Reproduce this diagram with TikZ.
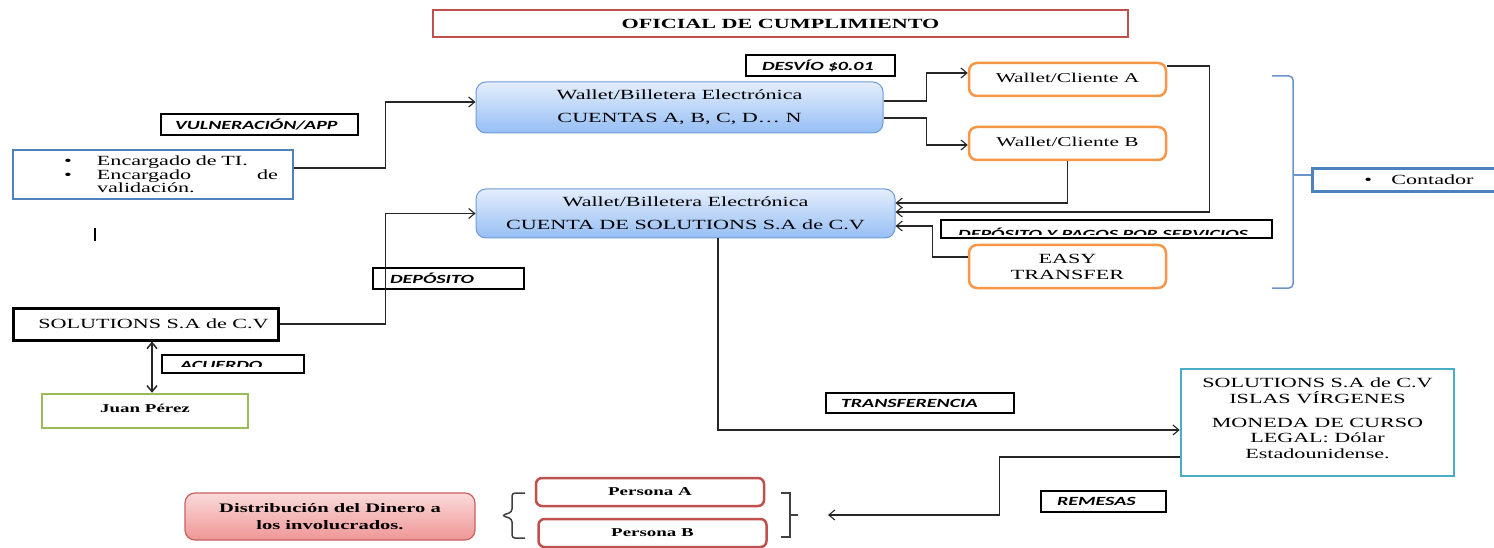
\documentclass[tikz,border=0pt]{standalone}
\usepackage{fontspec}
\setmainfont{Liberation Serif}[FakeStretch=1.58]
\newfontfamily\labfont{Carlito}[FakeStretch=1.6]
\usetikzlibrary{arrows.meta}
\definecolor{tred}{RGB}{192,80,77}
\definecolor{bblue}{RGB}{79,129,189}
\definecolor{wborder}{RGB}{110,155,215}
\definecolor{wtop}{RGB}{228,238,252}
\definecolor{wbot}{RGB}{150,190,245}
\definecolor{orng}{RGB}{247,150,70}
\definecolor{grn}{RGB}{155,187,89}
\definecolor{cyanb}{RGB}{75,172,198}
\definecolor{ptop}{RGB}{250,218,218}
\definecolor{pbot}{RGB}{240,150,150}
\definecolor{brk}{RGB}{64,64,64}
\begin{document}
\begin{tikzpicture}[x=1pt,y=-1pt,
  font=\fontsize{14}{15}\selectfont,
  box/.style={draw, inner sep=0pt, align=center},
  lab/.style={draw=black, line width=1.2pt, inner ysep=0pt, align=left,
    font=\labfont\bfseries\itshape\fontsize{12.5}{13}\selectfont},
  labtxt/.style={inner sep=0pt, anchor=base west,
    font=\labfont\bfseries\itshape\fontsize{12.5}{13}\selectfont},
  wallet/.style={box, draw=wborder, line width=1pt, rounded corners=10pt,
    top color=wtop, bottom color=wbot},
  orbox/.style={box, draw=orng, line width=2.5pt, rounded corners=8pt, minimum width=197pt},
  pbox/.style={box, draw=tred, line width=2.5pt, rounded corners=6pt,
    minimum width=228pt, minimum height=28pt, font=\bfseries\fontsize{12}{13}\selectfont},
  conn/.style={draw=black!85, line width=1.1pt, -{Straight Barb[length=6pt,width=10pt]}},
  dconn/.style={draw=black!85, line width=1.5pt,
    {Straight Barb[length=6pt,width=10pt]}-{Straight Barb[length=6pt,width=10pt]}},
  brack/.style={draw=brk, line width=1.5pt}
]
\useasboundingbox (0,0) rectangle (1494,548);

% title
\node[box, draw=tred, line width=2pt, minimum width=695pt, minimum height=27pt,
  font=\bfseries\fontsize{14}{15}\selectfont] (title) at (780.5,23.5) {OFICIAL DE CUMPLIMIENTO};

% wallets
\node[wallet, minimum width=407pt, minimum height=51pt] (w1) at (679.5,107.5)
  {Wallet/Billetera Electrónica\\[8pt]CUENTAS A, B, C, D… N};
\node[wallet, minimum width=419pt, minimum height=49pt] (w2) at (685.5,213.5)
  {Wallet/Billetera Electrónica\\[8pt]CUENTA DE SOLUTIONS S.A de C.V};

% left side
\node[box, draw=bblue, line width=2.5pt, minimum width=280pt, minimum height=49pt,
  text width=250pt, align=left, font=\fontsize{14}{13.5}\selectfont] (enc) at (153,174.5)
  {\hspace*{36pt}\makebox[33pt][l]{\textbullet}Encargado de TI.\\
   \hspace*{36pt}\makebox[33pt][l]{\textbullet}\makebox[181pt][s]{Encargado\hfill de}\\
   \hspace*{69pt}validación.};
\draw[line width=1.5pt] (95,228) -- (95,241);

\node[box, draw=black, line width=3pt, minimum width=265pt, minimum height=32pt] (sol) at (145.5,324)
  {\hspace*{16pt}SOLUTIONS S.A de C.V};
\node[box, draw=grn, line width=2.5pt, minimum width=206pt, minimum height=34pt,
  font=\bfseries\fontsize{12}{13}\selectfont] (juan) at (145,411) {Juan Pérez\rule[-6pt]{0pt}{0pt}};

% labels
\node[lab, text width=117pt, inner xsep=16pt, minimum height=21pt] (desvio) at (820.5,65.5) {DESVÍO \$0.01};
\node[lab, text width=169pt, inner xsep=14pt, minimum height=21pt] (vuln) at (259.5,124.5) {VULNERACIÓN/APP};
\node[lab, text width=117pt, inner xsep=17pt, minimum height=21pt] (dep) at (448.5,278.5) {DEPÓSITO};
\node[lab, text width=158pt, inner xsep=15pt, minimum height=20pt] (transf) at (920,403) {TRANSFERENCIA};
\node[lab, text width=93pt, inner xsep=16pt, minimum height=21pt] (rem) at (1103.5,501.5) {REMESAS};

\node[lab, inner xsep=0pt, minimum width=142pt, minimum height=18pt] (acu) at (233,364) {};
\begin{scope}
  \clip (163,356) rectangle (303,366);
  \node[labtxt] (acut) at (180,369.5) {ACUERDO};
\end{scope}
\node[lab, inner xsep=0pt, minimum width=331pt, minimum height=18pt] (depserv) at (1106.5,229) {};
\begin{scope}
  \clip (942,221) rectangle (1271,235);
  \node[labtxt] (depservt) at (958,238.3) {DEPÓSITO Y PAGOS POR SERVICIOS};
\end{scope}

% right side
\node[orbox, minimum height=33pt, font=\fontsize{13.5}{15}\selectfont] (ca) at (1067.5,79.5) {Wallet/Cliente A\rule[-3pt]{0pt}{0pt}};
\node[orbox, minimum height=33pt, font=\fontsize{13.5}{15}\selectfont] (cb) at (1067.5,143.5) {Wallet/Cliente B\rule[-3pt]{0pt}{0pt}};
\node[orbox, minimum height=43pt, font=\fontsize{14}{16}\selectfont] (easy) at (1067.5,266.5) {EASY\\TRANSFER};

\node[box, draw=bblue, line width=2.5pt, minimum height=23pt, text width=185pt, align=left,
  anchor=west] (cont) at (1311,180)
  {\hspace*{52pt}\makebox[27pt][l]{\textbullet}Contador};
\draw[draw=bblue!85, line width=1.5pt, rounded corners=4pt] (1272,76) -- (1293,76) -- (1293,288) -- (1272,288);
\draw[draw=bblue!85, line width=1.5pt] (1293,175) -- ([yshift=5pt]cont.west);

\node[box, draw=cyanb, line width=2.5pt, minimum width=273pt, minimum height=107pt,
  font=\fontsize{14}{15.5}\selectfont] (is) at (1317.5,422.5)
  {SOLUTIONS S.A de C.V\\ISLAS VÍRGENES\\[8.5pt]MONEDA DE CURSO\\LEGAL: Dólar\\Estadounidense.\rule[-9pt]{0pt}{0pt}};

% bottom
\node[pbox] (pa) at (650,492) {Persona A};
\node[pbox] (pb) at (652.5,533) {Persona B};
\node[box, draw=tred!90, line width=1.2pt, rounded corners=10pt, top color=ptop, bottom color=pbot,
  minimum width=290pt, minimum height=47pt, font=\bfseries\fontsize{13}{17}\selectfont] (dist) at (330,516.5)
  {Distribución del Dinero a\\los involucrados.};
\draw[brack, rounded corners=3pt] (525,493) -- (512,493) -- (512,512) -- (502,515.5) -- (512,519) -- (512,538) -- (525,538);
\draw[brack] (781,493) -- (790,493) -- (790,537) -- (781,537);
\draw[brack] (790,515) -- (798,515);
\coordinate (remend) at (828,515);

% connectors
\draw[conn] ([yshift=6.5pt]enc.east) -- ++(91,0) |- ([yshift=5.5pt]w1.west);
\draw[conn] (sol.east) -- ++(106,0) |- (w2.west);
\draw[conn] ([yshift=6.5pt]w1.east) -- ++(43,0) |- ([yshift=6.5pt]ca.west);
\draw[conn] ([yshift=-10.5pt]w1.east) -- ++(43,0) |- ([yshift=-1.5pt]cb.west);
\draw[conn] (cb.south) |- ([yshift=10.5pt]w2.east);
\draw[conn] ([yshift=13.5pt]ca.east) -- ++(42,0) |- ([yshift=1.5pt]w2.east);
\draw[conn] ([yshift=9.5pt]easy.west) -- ++(-35,0) |- ([yshift=-12.5pt]w2.east);
\draw[conn] ([xshift=32.5pt]w2.south) |- ([yshift=-7.5pt]is.west);
\draw[conn] ([yshift=-34.5pt]is.west) -- ++(-180,0) |- (remend);
\draw[dconn] ([xshift=6.5pt]sol.south) -- ([xshift=7pt]juan.north);
\end{tikzpicture}
\end{document}
